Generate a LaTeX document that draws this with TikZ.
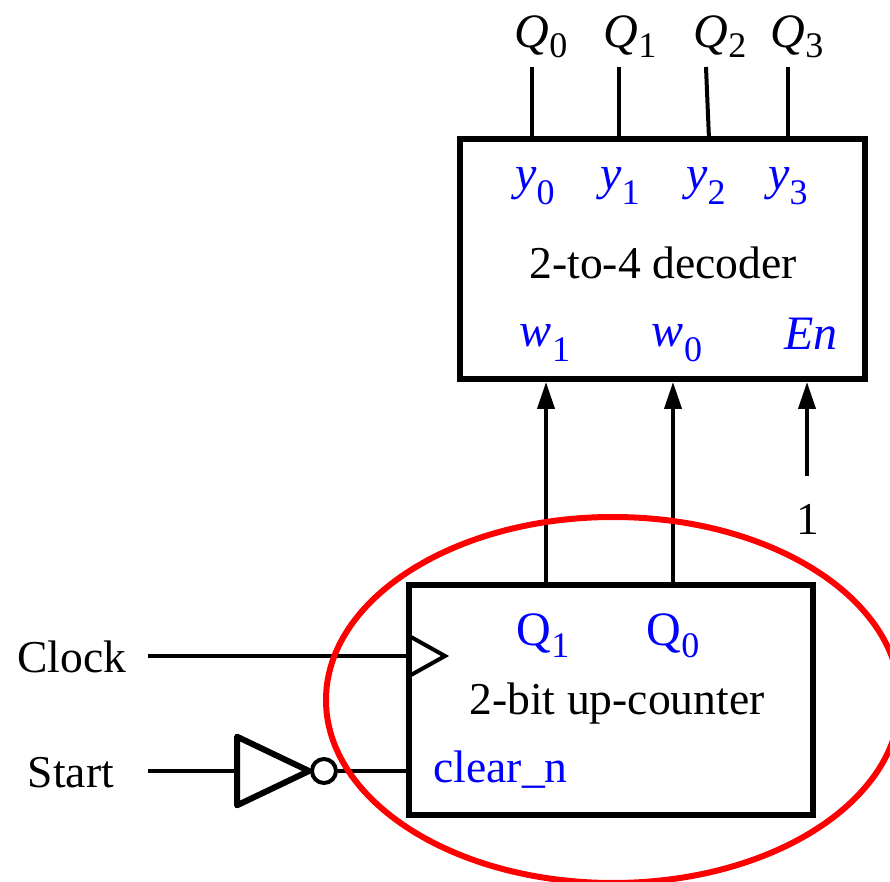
\documentclass[tikz,border=0pt]{standalone}
\usepackage{fontspec}
\setmainfont{Liberation Serif}
\usetikzlibrary{arrows.meta, positioning, calc, shapes.geometric}

\newcommand{\subtxt}[3][7.5pt]{#2\raisebox{-#1}{\fontsize{18}{20}\selectfont\upshape #3}}

\begin{document}
\begin{tikzpicture}[
      x=0.5pt, y=-0.5pt,
      every node/.style={font=\fontsize{24}{28}\selectfont, inner sep=0pt},
      blockbox/.style={draw, rectangle, line width=3pt},
      pinlabel/.style={text=blue, anchor=base},
      plainlabel/.style={anchor=base},
      wordlabel/.style={anchor=base, font=\fontsize{22.8}{28}\selectfont},
      wire/.style={line width=2pt},
      arrow/.style={-{Stealth[length=13.5pt, width=8.5pt, inset=0pt]}, line width=2pt},
      notgate/.style={draw, isosceles triangle, isosceles triangle apex angle=51, line width=3pt, line join=round, minimum height=36pt, anchor=lower side},
      bubble/.style={draw, circle, fill=white, line width=2pt, minimum size=12pt},
      ringmark/.style={draw=red, ellipse, line width=3pt, minimum width=287pt, minimum height=183pt}
    ]
    \useasboundingbox (0,0) rectangle (890,882);

    % decoder
    \node[blockbox, minimum width=202.5pt, minimum height=120pt] (decoder) at (662.5,259) {};
    \node[wordlabel] (dectext) at (663,279) {2-to-4 decoder};
    \node[pinlabel] (y0) at (535,190) {\subtxt{\textit{y}}{0}};
    \node[pinlabel] (y1) at (620,190) {\subtxt{\textit{y}}{1}};
    \node[pinlabel] (y2) at (706,190) {\subtxt{\textit{y}}{2}};
    \node[pinlabel] (y3) at (788,190) {\subtxt{\textit{y}}{3}};
    \node[pinlabel] (w1) at (545,347) {\subtxt{\textit{w}}{1}};
    \node[pinlabel] (w0) at (677,347) {\subtxt{\textit{w}}{0}};
    \node[pinlabel] (En) at (811,350) {\textit{En}};

    % outputs
    \node[plainlabel] (Q0) at (541,48) {\subtxt[5pt]{\textit{Q}}{0}};
    \node[plainlabel] (Q1) at (630,48) {\subtxt[5pt]{\textit{Q}}{1}};
    \node[plainlabel] (Q2) at (720,48) {\subtxt[5pt]{\textit{Q}}{2}};
    \node[plainlabel] (Q3) at (797,48) {\subtxt[5pt]{\textit{Q}}{3}};
    \coordinate (q0top) at (532,67);
    \coordinate (q1top) at (619,67);
    \coordinate (q2top) at (706,67);
    \coordinate (q3top) at (788,67);
    \coordinate (q2foot) at (709,139);
    \draw[wire] (q0top) -- (q0top |- decoder.north);
    \draw[wire] (q1top) -- (q1top |- decoder.north);
    \draw[wire] (q2top) -- (q2foot);
    \draw[wire] (q3top) -- (q3top |- decoder.north);

    % counter
    \node[blockbox, minimum width=202pt, minimum height=115pt] (counter) at (611,700) {};
    \node[wordlabel] (cnttext) at (617,714) {2-bit up-counter};
    \node[pinlabel] (cQ1) at (543,645) {\subtxt[6pt]{Q}{1}};
    \node[pinlabel] (cQ0) at (673,645) {\subtxt[6pt]{Q}{0}};
    \node[pinlabel, wordlabel, anchor=base west] (clr) at (433,782) {clear\_n};
    \coordinate (c1) at (546,585);
    \coordinate (c0) at (673,585);
    \draw[arrow] (c1) -- (c1 |- decoder.south);
    \draw[arrow] (c0) -- (c0 |- decoder.south);

    % enable
    \node[wordlabel] (one) at (808,535) {1};
    \coordinate (en) at (807,476);
    \draw[arrow] (en) -- (en |- decoder.south);

    % clock
    \node[wordlabel] (clock) at (72,672) {Clock};
    \coordinate (clkin) at (148,656);
    \coordinate (clkedge) at (410,656);
    \coordinate (clkup) at (411,637);
    \coordinate (clktip) at (445,656);
    \coordinate (clkdn) at (411,675);
    \draw[wire] (clkin) -- (clkedge);
    \draw[wire, line join=miter] (clkup) -- (clktip) -- (clkdn);

    % start
    \node[wordlabel] (start) at (71,787) {Start};
    \coordinate (startin) at (148,771);
    \node[notgate] (inv) at (234,771) {};
    \node[bubble, right=-3pt of inv.apex] (inb) {};
    \draw[wire] (startin) -- (inv.lower side);
    \draw[wire] (inb) -- (inb -| counter.west);

    \node[ringmark] (focus) at (613,700) {};
  \end{tikzpicture}
\end{document}
